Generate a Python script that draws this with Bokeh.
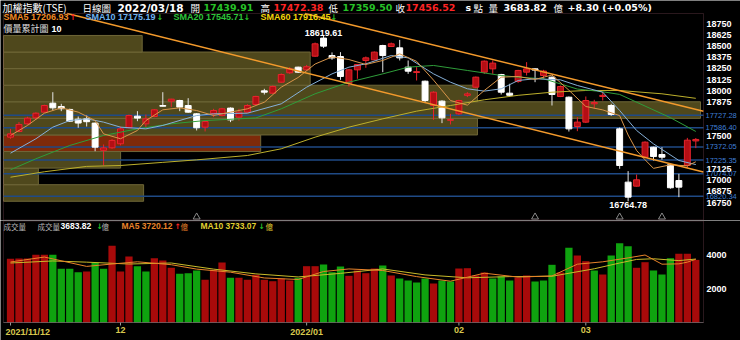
import numpy as np
from bokeh.plotting import figure
from bokeh.models import Range1d, Label, ColumnDataSource, BoxAnnotation
from bokeh.layouts import column
from bokeh.embed import file_html
from bokeh.resources import INLINE
from bokeh.core.properties import value

# ---------------- data ----------------
date_tick_idx = [0, 13, 35, 53, 68]
date_tick_labels = ["2021/11/12", "12", "2022/01", "02", "03"]

opens = [17482, 17545, 17631, 17698, 17762, 17862, 17825, 17792, 17683, 17687,
         17639, 17335, 17363, 17408, 17587, 17717, 17631, 17713, 17836, 17885,
         17892, 17836, 17743, 17594, 17743, 17724, 17807, 17706, 17762, 17847,
         18000, 17974, 18097, 18202, 18265, 18235, 18388, 18590, 18395, 18384,
         18086, 18235, 18340, 18347, 18507, 18496, 18481, 18265, 18205, 18108,
         17836, 17885, 17670, 17743, 17950, 18041, 18209, 18246, 18183, 17974,
         18105, 18209, 18246, 18172, 18153, 17937, 17929, 17601, 17650, 17855,
         17937, 17836, 17575, 16979, 16934, 17258, 17370, 17288, 17173, 16997,
         17165, 17439.91]
highs = [17575, 17650, 17710, 17760, 17845, 17985, 17855, 17800, 17713, 17724,
         17645, 17400, 17460, 17601, 17735, 17773, 17735, 17795, 17985, 17911,
         17900, 17918, 17750, 17665, 17799, 17810, 17815, 17799, 17850, 17945,
         18023, 18060, 18195, 18265, 18270, 18290, 18540, 18619.61, 18430, 18433,
         18245, 18300, 18384, 18440, 18515, 18540, 18570, 18340, 18265, 18115,
         17995, 17895, 17743, 17900, 17985, 18160, 18340, 18340, 18190, 18079,
         18235, 18321, 18250, 18235, 18160, 18060, 17937, 17706, 17937, 17900,
         17985, 17855, 17590, 17102, 17064, 17436, 17375, 17370, 17184, 17072,
         17474, 17472.38]
lows = [17464, 17538, 17620, 17676, 17755, 17780, 17773, 17655, 17587, 17601,
        17325, 17165, 17350, 17390, 17580, 17661, 17594, 17705, 17825, 17818,
        17773, 17755, 17557, 17546, 17706, 17715, 17650, 17668, 17755, 17840,
        17959, 17965, 18090, 18190, 18200, 18225, 18380, 18480, 18347, 18123,
        18049, 18135, 18258, 18340, 18209, 18490, 18340, 18190, 18116, 17870,
        17676, 17639, 17624, 17730, 17930, 18030, 18190, 18190, 17959, 17937,
        18090, 18172, 18097, 18135, 17836, 17930, 17545, 17549, 17640, 17800,
        17892, 17720, 17128, 16764.78, 16930, 17245, 17221, 17230, 16905, 16811,
        17140, 17359.50]
closes = [17519, 17624, 17695, 17750, 17836, 17810, 17800, 17661, 17640, 17655,
          17370, 17362, 17445, 17575, 17724, 17695, 17687, 17788, 17828, 17907,
          17818, 17762, 17587, 17657, 17780, 17799, 17675, 17762, 17836, 17937,
          17985, 18049, 18183, 18246, 18209, 18270, 18526, 18500, 18368, 18161,
          18235, 18295, 18369, 18433, 18395, 18526, 18369, 18220, 18215, 17892,
          17985, 17698, 17680, 17892, 17966, 18153, 18332, 18310, 17985, 17950,
          18228, 18246, 18232, 18221, 17959, 18049, 17575, 17650, 17892, 17870,
          17950, 17736, 17165, 16811, 17005, 17426, 17265, 17258, 16916, 16923,
          17448.22, 17456.52]
volumes = [3746, 3765, 3765, 3982, 3982, 3982, 3159, 3159, 2959, 3000,
           3529, 3159, 4512, 3000, 3882, 3312, 3000, 3782, 3647, 3218,
           2865, 2900, 3059, 2512, 3100, 3529, 2629, 2629, 2512, 2806,
           2512, 2429, 2588, 2470, 2629, 3312, 3312, 3412, 2959, 3294,
           2747, 3059, 2900, 3176, 3353, 2765, 2588, 2470, 2353, 2588,
           2294, 2470, 2412, 3176, 3194, 2765, 2941, 2588, 2706, 2470,
           2647, 2765, 2412, 2470, 3394, 2941, 4394, 3941, 3606, 3059,
           2823, 3941, 4665, 4488, 3218, 3547, 3059, 2823, 3782, 4041,
           4041, 3683.82]

sma5_x = [0, 2, 4, 6, 8, 10, 11, 13, 15, 16, 18, 20, 22, 24, 26, 28, 30, 32, 34, 36, 38, 40, 42, 44, 46,
          48, 50, 52, 54, 56, 58, 60, 62, 64, 66, 68, 70, 72, 73, 74, 75, 76, 78, 80, 81]
sma5_y = [17501, 17613, 17750, 17810, 17762, 17668, 17519, 17464, 17557, 17668, 17788, 17810, 17780,
          17724, 17762, 17799, 17873, 18041, 18150, 18300, 18380, 18350, 18295, 18340, 18414, 18330,
          18120, 17892, 17840, 18004, 18153, 18161, 18128, 18177, 18007, 17825, 17787, 17723, 17506,
          17333, 17229, 17133, 17173, 17161, 17206.93]
sma10_x = [0, 3, 5, 7, 9, 11, 13, 16, 18, 22, 24, 28, 32, 35, 38, 40, 42, 45, 47, 50, 52, 54, 56, 58,
           60, 62, 65, 67, 70, 72, 74, 76, 79, 81]
sma10_y = [17303, 17464, 17594, 17668, 17687, 17650, 17594, 17575, 17613, 17724, 17743, 17750, 17855,
           18041, 18190, 18265, 18302, 18395, 18369, 18190, 18097, 18023, 17997, 18023, 18116, 18135,
           18123, 18060, 17985, 17780, 17557, 17407, 17221, 17175.19]
sma20_x = [0, 3, 7, 11, 15, 19, 23, 27, 29, 32, 36, 40, 44, 47, 50, 54, 58, 60, 63, 67, 70, 72, 75, 78, 81]
sma20_y = [17117, 17240, 17389, 17501, 17575, 17631, 17668, 17687, 17697, 17799, 17967, 18097, 18190,
           18265, 18284, 18228, 18172, 18153, 18135, 18020, 17990, 17960, 17830, 17700, 17545.71]
sma60_x = [0, 4, 9, 13, 18, 22, 28, 32, 36, 40, 44, 48, 52, 56, 60, 64, 68, 72, 77, 81]
sma60_y = [17034, 17095, 17155, 17165, 17200, 17228, 17277, 17352, 17482, 17594, 17687, 17773, 17836,
           17900, 17950, 17985, 18004, 18004, 17967, 17916.45]

vma5_x = [0, 4, 9, 12, 15, 19, 22, 26, 30, 34, 37, 40, 44, 48, 52, 56, 60, 64, 67, 70, 73, 75, 77, 79, 80, 81]
vma5_y = [3560, 3850, 3300, 3440, 3570, 3400, 3140, 2960, 2620, 2530, 3000, 3150, 3060, 2700, 2430, 2900,
          2670, 2740, 3430, 3570, 3800, 3970, 3430, 3450, 3550, 3720.12]
vma10_x = [0, 5, 9, 14, 19, 24, 29, 34, 39, 44, 49, 54, 59, 64, 69, 72, 74, 76, 79, 81]
vma10_y = [3500, 3620, 3550, 3440, 3500, 3140, 2860, 2680, 2890, 3150, 2800, 2630, 2700, 2720, 3160,
           3500, 3710, 3750, 3640, 3733.07]

levels = [17727.28, 17586.40, 17372.05, 17225.35, 17074.07, 16820.34]
vp_share = [20.1, 5.0, 16.8, 36.9, 68.0, 100.0, 68.0, 44.0, 44.0, 19.9]   # price-volume bins, low -> high
event_idx = [22, 62, 72, 77]
trend_x0 = [34.8, 6.7]
trend_y0 = [18865, 18865]
trend_x1 = [81.9, 81.9]
trend_y1 = [17772, 17092]

price_ticks = list(range(16750, 18751, 125))
vol_ticks = [2000, 4000]

# ---------------- geometry ----------------
W = 740
XL, XR = -0.83, 81.91             # index range of the chart panels (canvas x 3 .. 703)
PPU = 700 / (XR - XL)             # pixels per index unit
XMIN, XMAX = XL - 3 / PPU, XR + 37 / PPU
PT, PB = 18865.2, 16549.8         # price range of the upper panel (canvas y 13 .. 220)
PPP = 207 / (PT - PB)             # pixels per price point
H1 = 220
YMAX1 = PT + 13 / PPP
VT = 6000.0                       # volume at canvas y 220, 0 at y 322
PPV = 102 / VT
H2 = 120
VMIN = -18 / PPV

FONT = "Liberation Sans"
BOLDF = "DejaVu Sans"
CJK = "Noto Sans CJK TC"
BORDER = "#8c4f60"
n = len(closes)
xs = list(range(n))


def lab(fig, fh, ytop, text, xc, yc, color, size, font=FONT, style="bold", align="left", bg=None):
    fig.add_layout(Label(x=xc, y=fh - (yc - ytop), x_units="screen", y_units="screen", text=text,
                         text_color=color, text_font=font, text_font_style=style,
                         text_font_size=f"{size}px", text_align=align, text_baseline="middle",
                         background_fill_color=bg))


def base_fig(h, yr):
    f = figure(title=None, x_range=Range1d(XMIN, XMAX), y_range=yr, frame_width=W, frame_height=h,
               min_border=0, x_axis_location=None, y_axis_location=None, toolbar_location=None,
               output_backend="svg", background_fill_color="black", border_fill_color="black",
               outline_line_color=None)
    f.grid.visible = False
    return f


# ---------------- price panel ----------------
p = base_fig(H1, Range1d(PB, YMAX1))

edges = np.linspace(min(lows), max(highs), len(vp_share) + 1)
last_bin = int(np.searchsorted(edges, closes[-1]) - 1)
vp_colors = ["#7e2a0a" if k == last_bin else "#4f481c" for k in range(len(vp_share))]
vp_scale = 697 / max(vp_share)
p.extra_x_ranges = {"vp": Range1d(-3 / vp_scale, (W - 3) / vp_scale)}
p.quad(left=0, right=vp_share, bottom=list(edges[:-1]), top=list(edges[1:]), x_range_name="vp",
       fill_color=vp_colors, line_color="#6f6738", line_width=1)

p.segment(x0=XL, x1=XR, y0=levels, y1=levels, line_color="#1f4a86", line_width=1.5)

up = [c >= o for o, c in zip(opens, closes)]
cs = ColumnDataSource(dict(
    x=xs, h=highs, l=lows,
    t=[max(o, c) for o, c in zip(opens, closes)],
    b=[min(o, c) for o, c in zip(opens, closes)],
    fill=["#b40e14" if u else "#ffffff" for u in up],
    edge=["#e8242c" if u else "#ffffff" for u in up],
    wick=["#e8242c" if u else "#e6e6e6" for u in up]))
p.segment("x", "l", "x", "h", source=cs, line_color="wick", line_width=1)
p.vbar(x="x", width=0.7, top="t", bottom="b", source=cs, fill_color="fill", line_color="edge", line_width=1)

p.line(sma60_x, sma60_y, line_color="#bdb02c", line_width=1)
p.line(sma20_x, sma20_y, line_color="#2f9d3a", line_width=1)
p.line(sma10_x, sma10_y, line_color="#86b0d8", line_width=1)
p.line(sma5_x, sma5_y, line_color="#d8954a", line_width=1)

p.segment(x0=trend_x0, y0=trend_y0, x1=trend_x1, y1=trend_y1, line_color="#f39a2c", line_width=1.5)

hi_i = int(np.argmax(highs))
lo_i = int(np.argmin(lows))
p.text(x=[hi_i], y=[highs[hi_i]], text=[f"{highs[hi_i]:.2f}"], text_align="center", text_baseline="bottom",
       y_offset=1, text_color="white", text_font=value(FONT), text_font_style="bold", text_font_size="9px")
p.text(x=[lo_i], y=[lows[lo_i]], text=[f"{lows[lo_i]:.2f}"], text_align="center", text_baseline="top",
       y_offset=1, text_color="white", text_font=value(FONT), text_font_style="bold", text_font_size="9px")

ev_y = PB + 3.5 / PPP
p.scatter(event_idx, [ev_y] * len(event_idx), marker="triangle", size=7, fill_color=None,
          line_color="#8a8a8a", line_width=1)

# panel border
p.add_layout(BoxAnnotation(left=XL, right=XR, top=PT, bottom=PB + 0.5 / PPP, fill_color=None,
                           line_color=BORDER, line_width=1))

# right price scale (white ticks hidden where a blue level label sits on top of them)
shown_ticks = [t for t in price_ticks if min(abs(t - lv) for lv in levels) > 45]
p.text(x=XR, y=shown_ticks, text=[str(t) for t in shown_ticks], x_offset=3, text_align="left",
       text_baseline="middle", text_color="white", text_font=value(FONT), text_font_style="bold",
       text_font_size="9px")
p.text(x=XR, y=levels, text=[f"{lv:.2f}" for lv in levels], x_offset=2, text_align="left",
       text_baseline="middle", text_color="#3f7fd6", text_font=value(FONT), text_font_size="7.5px")

# header
HY = 7
hdr = [("加權指數(TSE)", 2, "white", 10, CJK, "normal"),
       ("日線圖", 82, "white", 9.5, CJK, "normal"),
       ("2022/03/18", 117, "white", 10.5, BOLDF, "bold"),
       ("開", 190, "white", 9.5, CJK, "normal"),
       (f"{opens[-1]:.2f}", 203, "#27c227", 9.5, BOLDF, "bold"),
       ("高", 260, "white", 9.5, CJK, "normal"),
       (f"{highs[-1]:.2f}", 273, "#ff2424", 9.5, BOLDF, "bold"),
       ("低", 328, "white", 9.5, CJK, "normal"),
       (f"{lows[-1]:.2f}", 342, "#27c227", 9.5, BOLDF, "bold"),
       ("收", 395, "white", 9.5, CJK, "normal"),
       (f"{closes[-1]:.2f}", 405, "#ff2424", 9.5, BOLDF, "bold"),
       ("s", 465, "white", 9.5, BOLDF, "bold"),
       ("點", 473, "white", 9.5, CJK, "normal"),
       ("量", 488, "white", 9.5, CJK, "normal"),
       (f"{volumes[-1]:.2f}", 503, "white", 9.5, BOLDF, "bold"),
       ("億", 553, "white", 9.5, CJK, "normal")]
chg = closes[-1] - closes[-2]
hdr.append((f"+{chg:.2f} (+{chg / closes[-2] * 100:.2f}%)", 567, "white", 9.5, BOLDF, "bold"))
for t, xc, col, sz, fnt, st in hdr:
    lab(p, H1, 0, t, xc, HY, col, sz, fnt, st)

# MA legend
LY = 16.5
lab(p, H1, 0, f"SMA5 {sma5_y[-1]:.2f}", 3, LY, "#f08a24", 9)
lab(p, H1, 0, "↑", 69, LY, "#ff2020", 8, BOLDF)
lab(p, H1, 0, f"SMA10 {sma10_y[-1]:.2f}", 85, LY, "#6fb3f0", 9)
lab(p, H1, 0, "↓", 156, LY, "#27c227", 8, BOLDF)
lab(p, H1, 0, f"SMA20 {sma20_y[-1]:.2f}", 173, LY, "#2ec43a", 9)
lab(p, H1, 0, "↓", 243, LY, "#27c227", 8, BOLDF)
lab(p, H1, 0, f"SMA60 {sma60_y[-1]:.2f}", 260, LY, "#f2d40a", 9)
lab(p, H1, 0, "↓", 330, LY, "#27c227", 8, BOLDF)
lab(p, H1, 0, "價量累計圖", 3, 28, "#e0e0e0", 9, CJK, "normal")
lab(p, H1, 0, "10", 51, 28, "white", 9)

# ---------------- volume panel ----------------
p2 = base_fig(H2, Range1d(VMIN, VT))
p2.x_range = p.x_range

prev = [opens[0]] + closes[:-1]
vcol = ["#a80a0a" if c >= pc else "#0fa30f" for c, pc in zip(closes, prev)]
p2.vbar(x=xs, top=volumes, width=0.86, fill_color=vcol, line_color=None)
p2.line(vma10_x, vma10_y, line_color="#c8bb2a", line_width=1)
p2.line(vma5_x, vma5_y, line_color="#e8832a", line_width=1)

p2.add_layout(BoxAnnotation(left=XL, right=XR, top=VT - 0.5 / PPV, bottom=0, fill_color=None,
                            line_color=BORDER, line_width=1))
p2.add_layout(BoxAnnotation(left=XL, right=XR, top=0, bottom=0, fill_color=None,
                            line_color="#8a8a8a", line_width=1))

# date scale
p2.segment(x0=date_tick_idx, x1=date_tick_idx, y0=0, y1=-3 / PPV, line_color="#9a9a9a", line_width=1)
p2.text(x=date_tick_idx[1:], y=0, text=date_tick_labels[1:], y_offset=4, text_align="center",
        text_baseline="top", text_color="#d8c84e", text_font=value(FONT), text_font_style="bold",
        text_font_size="9px")
p2.text(x=date_tick_idx[:1], y=0, text=date_tick_labels[:1], x_offset=-5, y_offset=4, text_align="left",
        text_baseline="top", text_color="#d8c84e", text_font=value(FONT), text_font_style="bold",
        text_font_size="9px")

# volume scale
p2.text(x=XR, y=vol_ticks, text=[str(t) for t in vol_ticks], x_offset=3, text_align="left",
        text_baseline="middle", text_color="white", text_font=value(FONT), text_font_style="bold",
        text_font_size="9px")

VY = 225.5
lab(p2, H2, 220, "成交量", 3, VY, "#b8b8b8", 7.5, CJK, "normal")
lab(p2, H2, 220, "成交量", 37, VY, "#b8b8b8", 7.5, CJK, "normal")
lab(p2, H2, 220, f"{volumes[-1]:.2f}", 60, VY, "white", 8.5)
lab(p2, H2, 220, "↓", 96, VY, "#27c227", 7.5, BOLDF)
lab(p2, H2, 220, "億", 101, VY, "#b8b8b8", 7.5, CJK, "normal")
lab(p2, H2, 220, f"MA5 {vma5_y[-1]:.2f}", 121, VY, "#e8832a", 8.5)
lab(p2, H2, 220, "↑", 174, VY, "#ff2020", 7.5, BOLDF)
lab(p2, H2, 220, "億", 180, VY, "#e8832a", 7.5, CJK, "normal")
lab(p2, H2, 220, f"MA10 {vma10_y[-1]:.2f}", 200, VY, "#e0d030", 8.5)
lab(p2, H2, 220, "↓", 258, VY, "#27c227", 7.5, BOLDF)
lab(p2, H2, 220, "億", 265, VY, "#e0d030", 7.5, CJK, "normal")

layout = column(p, p2)
open("out.html", "w").write(file_html(layout, INLINE, title="TSE"))
